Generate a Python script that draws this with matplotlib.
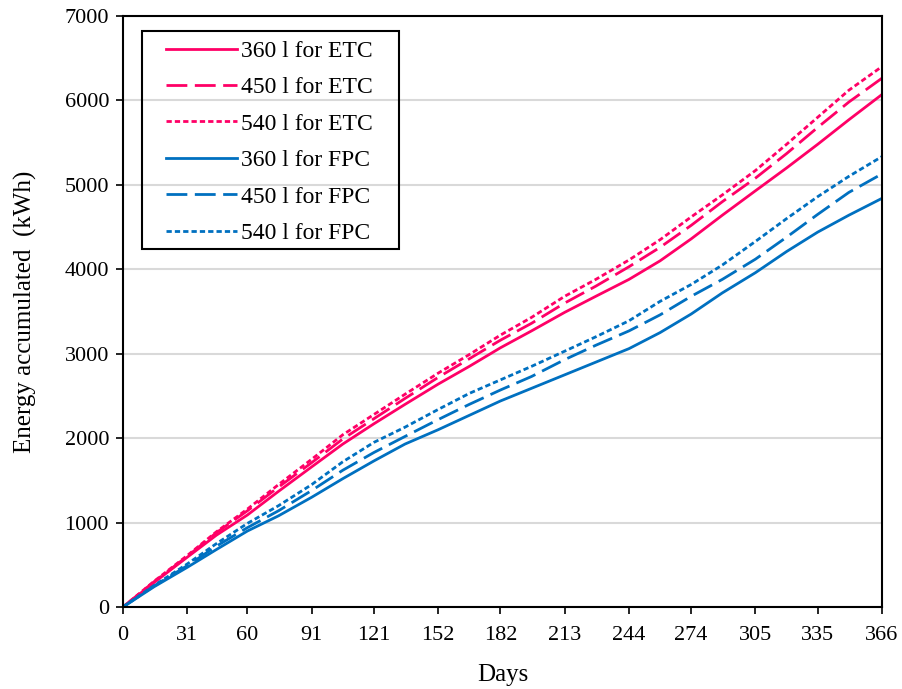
import matplotlib
matplotlib.use('Agg')
import matplotlib.pyplot as plt
from matplotlib.patches import Rectangle

plt.rcParams['font.family'] = ['Liberation Serif', 'DejaVu Serif']

days = [0, 15, 31, 45, 60, 75, 91, 106, 121, 136, 152, 167, 182, 197,
        213, 228, 244, 259, 274, 289, 305, 320, 335, 350, 366]

etc_360 = [0, 290, 590, 850, 1090, 1370, 1660, 1930, 2170, 2400, 2640, 2850, 3070,
           3270, 3490, 3680, 3880, 4100, 4360, 4640, 4930, 5200, 5480, 5770, 6070]
etc_450 = [0, 300, 600, 880, 1140, 1420, 1710, 1990, 2230, 2470, 2720, 2940, 3160,
           3360, 3600, 3800, 4030, 4260, 4520, 4800, 5080, 5370, 5680, 5980, 6263]
etc_540 = [0, 305, 610, 890, 1160, 1450, 1750, 2040, 2280, 2520, 2770, 2990, 3220,
           3430, 3680, 3880, 4110, 4350, 4620, 4880, 5170, 5480, 5800, 6120, 6401]
fpc_360 = [0, 240, 470, 680, 900, 1080, 1300, 1520, 1730, 1930, 2100, 2270, 2440,
           2590, 2750, 2900, 3060, 3250, 3470, 3720, 3960, 4210, 4440, 4640, 4840]
fpc_450 = [0, 250, 490, 720, 940, 1140, 1380, 1620, 1830, 2020, 2220, 2400, 2570,
           2730, 2930, 3100, 3270, 3460, 3680, 3880, 4120, 4380, 4650, 4910, 5130]
fpc_540 = [0, 255, 510, 750, 990, 1200, 1450, 1720, 1950, 2130, 2340, 2530, 2690,
           2850, 3030, 3200, 3390, 3620, 3820, 4050, 4330, 4600, 4860, 5100, 5335]

xticks = [0, 31, 60, 91, 121, 152, 182, 213, 244, 274, 305, 335, 366]
yticks = [0, 1000, 2000, 3000, 4000, 5000, 6000, 7000]

pink = '#FF0066'
blue = '#0070C0'
solid = '-'
dashed = (0, (7.5, 2.7))
dotted = (0, (1.9, 1.1))

fig = plt.figure(figsize=(9.03, 6.89), dpi=100)
ax = fig.add_axes([0.1362, 0.119, 0.8405, 0.8578])

ax.grid(axis='y', color='#D9D9D9', linewidth=1.5, zorder=0)
ax.set_axisbelow(True)

lw = 2.0
ax.plot(days, etc_360, color=pink, lw=lw, ls=solid, label='360 l for ETC')
ax.plot(days, etc_450, color=pink, lw=lw, ls=dashed, label='450 l for ETC')
ax.plot(days, etc_540, color=pink, lw=lw, ls=dotted, label='540 l for ETC')
ax.plot(days, fpc_360, color=blue, lw=lw, ls=solid, label='360 l for FPC')
ax.plot(days, fpc_450, color=blue, lw=lw, ls=dashed, label='450 l for FPC')
ax.plot(days, fpc_540, color=blue, lw=lw, ls=dotted, label='540 l for FPC')

ax.set_xlim(0, 366)
ax.set_ylim(0, 7000)
ax.set_xticks(xticks)
ax.set_yticks(yticks)
ax.tick_params(direction='out', length=5, width=1.2, labelsize=16, pad=5)
ax.tick_params(axis='x', pad=9)
for s in ax.spines.values():
    s.set_linewidth(1.5)
    s.set_color('black')

ax.set_xlabel('Days', fontsize=18, labelpad=13)
ax.set_ylabel('Energy accumulated  (kWh)', fontsize=18, labelpad=20)

# legend without its own frame, box drawn separately (wide side padding)
leg = ax.legend(loc='upper left', bbox_to_anchor=(0.057, 0.9587), fontsize=17,
                frameon=False, handlelength=3.0, borderpad=0, labelspacing=0.63,
                handletextpad=0.15, borderaxespad=0)
ax.add_patch(Rectangle((0.025, 0.6058), 0.3386, 0.3688, transform=ax.transAxes,
                       fill=False, edgecolor='black', linewidth=1.5, zorder=5))

fig.savefig('out.png', dpi=100)
